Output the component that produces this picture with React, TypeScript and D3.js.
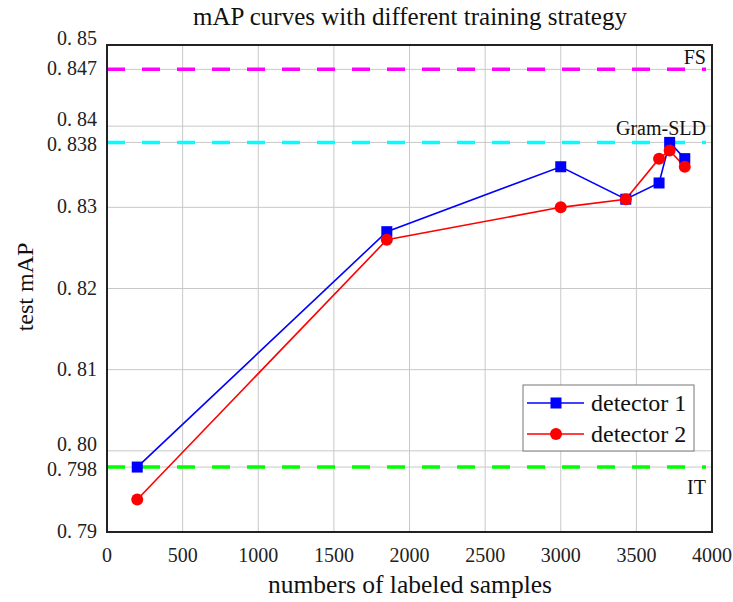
import React from "react";
import * as d3 from "d3";

const xTicks = [0, 500, 1000, 1500, 2000, 2500, 3000, 3500, 4000];
const yTicks = [0.79, 0.798, 0.8, 0.81, 0.82, 0.83, 0.838, 0.84, 0.847, 0.85];
const yTickLabels = ["0. 79", "0. 798", "0. 80", "0. 81", "0. 82", "0. 83", "0. 838", "0. 84", "0. 847", "0. 85"];

const samples = [200, 1850, 3000, 3430, 3650, 3720, 3820];
const detector1 = [0.798, 0.827, 0.835, 0.831, 0.833, 0.838, 0.836];
const detector2 = [0.794, 0.826, 0.830, 0.831, 0.836, 0.837, 0.835];

const refNames = ["FS", "Gram-SLD", "IT"];
const refValues = [0.847, 0.838, 0.798];
const refColors = ["#ff00ff", "#00ffff", "#00ff00"];

const FONT = '"Liberation Serif", "DejaVu Serif", serif';

export default function App() {
  const W = 733, H = 602;
  const L = 107, R = 712, T = 45, B = 532;
  const x = d3.scaleLinear().domain([0, 4000]).range([L, R]);
  const y = d3.scaleLinear().domain([0.79, 0.85]).range([B, T]);
  const line = d3.line<[number, number]>().x(d => x(d[0])).y(d => y(d[1]));
  const d1 = samples.map((s, i) => [s, detector1[i]] as [number, number]);
  const d2 = samples.map((s, i) => [s, detector2[i]] as [number, number]);
  const ts = { fontFamily: FONT };

  return (
    <svg width={W} height={H} style={{ position: "absolute", left: 0, top: 0, background: "#fff" }}>
      <rect width={W} height={H} fill="#fff" />
      {xTicks.map(t => (
        <line key={"gx" + t} x1={x(t)} x2={x(t)} y1={T} y2={B} stroke="#c8c8c8" strokeWidth={1} />
      ))}
      {yTicks.map(t => (
        <line key={"gy" + t} x1={L} x2={R} y1={y(t)} y2={y(t)} stroke="#c8c8c8" strokeWidth={1} />
      ))}
      {refValues.map((v, i) => (
        <line key={"ref" + i} x1={L} x2={R - 6} y1={y(v)} y2={y(v)} stroke={refColors[i]} strokeWidth={3.5} strokeDasharray="18 17" />
      ))}
      <text style={ts} x={706} y={y(refValues[0]) - 5} textAnchor="end" fontSize={20} fill="#111">{refNames[0]}</text>
      <text style={ts} x={706} y={y(refValues[1]) - 7} textAnchor="end" fontSize={20} fill="#111">{refNames[1]}</text>
      <text style={ts} x={706} y={y(refValues[2]) + 27} textAnchor="end" fontSize={20} fill="#111">{refNames[2]}</text>
      <path d={line(d1) || ""} fill="none" stroke="#0000ff" strokeWidth={1.6} />
      <path d={line(d2) || ""} fill="none" stroke="#ff0000" strokeWidth={1.6} />
      {d1.map((p, i) => (
        <rect key={"s" + i} x={x(p[0]) - 5.5} y={y(p[1]) - 5.5} width={11} height={11} fill="#0000ff" />
      ))}
      {d2.map((p, i) => (
        <circle key={"c" + i} cx={x(p[0])} cy={y(p[1])} r={6} fill="#ff0000" />
      ))}
      <rect x={L} y={T} width={R - L} height={B - T} fill="none" stroke="#222" strokeWidth={2} />
      {yTicks.map((t, i) => {
        let dy = 6;
        if (t === 0.85 || t === 0.84 || t === 0.8) dy = 0;
        if (t === 0.838 || t === 0.798) dy = 9;
        return (
          <text style={ts} key={"yl" + t} x={97} y={y(t) + dy} textAnchor="end" fontSize={20} fill="#222">{yTickLabels[i]}</text>
        );
      })}
      {xTicks.map(t => (
        <text style={ts} key={"xl" + t} x={x(t)} y={562} textAnchor="middle" fontSize={20} fill="#222">{String(t)}</text>
      ))}
      <text style={ts} x={410} y={593} textAnchor="middle" fontSize={25.5} fill="#111">numbers of labeled samples</text>
      <text style={ts} transform={`translate(33, ${287}) rotate(-90)`} textAnchor="middle" fontSize={24} fill="#111">test mAP</text>
      <text style={ts} x={410} y={25} textAnchor="middle" fontSize={25} fill="#111">mAP curves with different training strategy</text>
      <rect x={523} y={385} width={171} height={66} fill="#fff" stroke="#777" strokeWidth={1} />
      <line x1={527} x2={584} y1={403} y2={403} stroke="#0000ff" strokeWidth={1.6} />
      <rect x={550.5} y={397.5} width={11} height={11} fill="#0000ff" />
      <text style={ts} x={591} y={411} fontSize={24} fill="#111">detector 1</text>
      <line x1={527} x2={584} y1={434} y2={434} stroke="#ff0000" strokeWidth={1.6} />
      <circle cx={556} cy={434} r={6} fill="#ff0000" />
      <text style={ts} x={591} y={442} fontSize={24} fill="#111">detector 2</text>
    </svg>
  );
}
